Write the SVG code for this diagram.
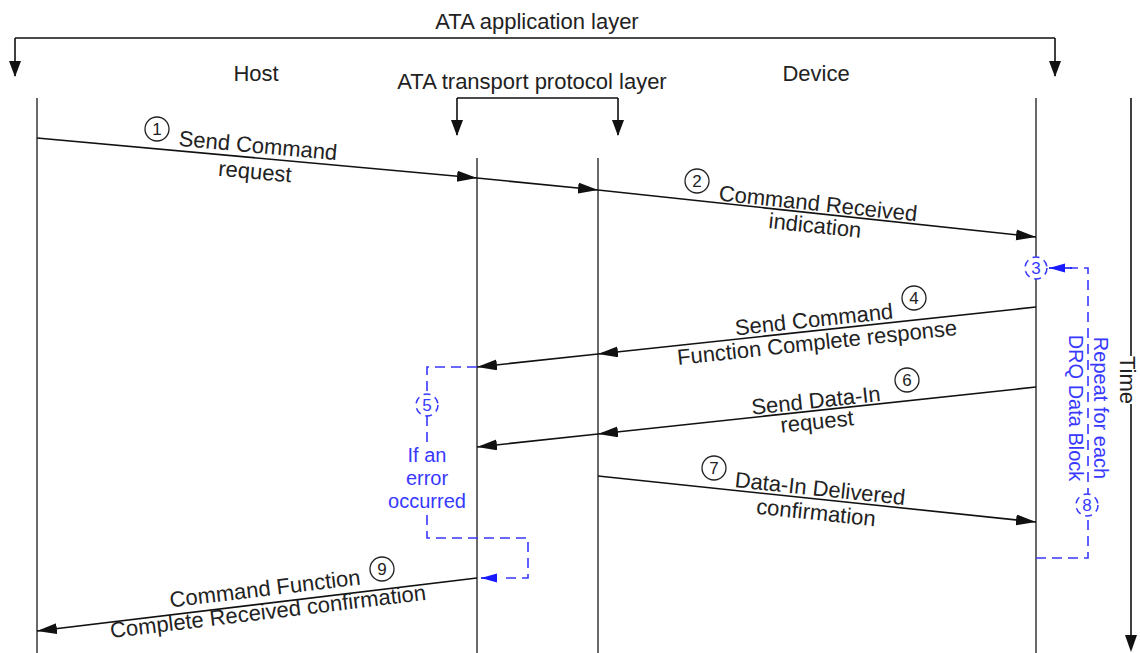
<svg xmlns="http://www.w3.org/2000/svg" width="1140" height="653" viewBox="0 0 1140 653">
<defs>
<style>
.t{font-family:"Liberation Sans",Arial,sans-serif;font-size:22px;fill:#222;text-anchor:middle}
.b{font-family:"Liberation Sans",Arial,sans-serif;font-size:20px;fill:#3838ff;text-anchor:middle}
.n{font-family:"Liberation Sans",Arial,sans-serif;font-size:17px;fill:#222;text-anchor:middle}
.nb{font-family:"Liberation Sans",Arial,sans-serif;font-size:17px;fill:#3838ff;text-anchor:middle}
.life{stroke:#444;stroke-width:1.6;fill:none}
.msg{stroke:#111;stroke-width:1.6;fill:none;marker-end:url(#ah)}
.br{stroke:#111;stroke-width:1.6;fill:none}
.dash{stroke:#3838ff;stroke-width:1.6;fill:none;stroke-dasharray:10 6}
.nc{fill:#fff;stroke:#222;stroke-width:1.3}
.ncb{fill:#fff;stroke:#3838ff;stroke-width:1.5;stroke-dasharray:7 5}
</style>
<marker id="ah" markerUnits="userSpaceOnUse" markerWidth="22" markerHeight="12" refX="20" refY="5.5" orient="auto">
<path d="M0,0 L20,5.5 L0,11 z" fill="#111"/>
</marker>
<marker id="ahb" markerUnits="userSpaceOnUse" markerWidth="20" markerHeight="12" refX="16" refY="4.5" orient="auto">
<path d="M0,0 L16,4.5 L0,9 z" fill="#1a1aff"/>
</marker>
</defs>
<rect width="1140" height="653" fill="#fff"/>

<g id="app-layer">
<text class="t" x="537" y="29">ATA application layer</text>
<path class="br" d="M15,38 H1055 M15,38 V76 M1055,38 V76"/>
<path d="M9,61 L15,77 L21,61 z M1049,61 L1055,77 L1061,61 z" fill="#111"/>
</g>

<g id="transport-layer">
<text class="t" x="532" y="89">ATA transport protocol layer</text>
<path class="br" d="M457,98 H618 M457,98 V135 M618,98 V135"/>
<path d="M451,120 L457,136 L463,120 z M612,120 L618,136 L624,120 z" fill="#111"/>
</g>

<g id="host">
<text class="t" x="256" y="81">Host</text>
<line class="life" x1="37" y1="98" x2="37" y2="653"/>
</g>

<g id="transport-host-side">
<line class="life" x1="477" y1="158" x2="477" y2="653"/>
</g>

<g id="transport-device-side">
<line class="life" x1="598" y1="158" x2="598" y2="653"/>
</g>

<g id="device">
<text class="t" x="816" y="81">Device</text>
<line class="life" x1="1036" y1="98" x2="1036" y2="257"/>
<line class="life" x1="1036" y1="279" x2="1036" y2="653"/>
</g>

<g id="time-axis">
<line class="br" x1="1131" y1="98" x2="1131" y2="356"/>
<line class="br" x1="1131" y1="404" x2="1131" y2="636"/>
<path d="M1125,635 L1131,652 L1137,635 z" fill="#111"/>
<text class="t" transform="translate(1127,380) rotate(90)" x="0" y="7">Time</text>
</g>

<g id="connectors">
<line class="msg" x1="37" y1="138" x2="477" y2="178"/>
<line class="msg" x1="477" y1="178" x2="598" y2="190"/>
<line class="msg" x1="598" y1="190" x2="1036" y2="237"/>
<line class="msg" x1="1036" y1="307" x2="598" y2="354"/>
<line class="msg" x1="598" y1="354" x2="477" y2="367"/>
<line class="msg" x1="1036" y1="387" x2="598" y2="434"/>
<line class="msg" x1="598" y1="434" x2="477" y2="447"/>
<line class="msg" x1="598" y1="476" x2="1036" y2="522"/>
<line class="msg" x1="477" y1="578" x2="37" y2="631"/>
<path class="dash" d="M477,367 H427 V394 M427,416 V442 M427,515 V538 H528 V578 H500"/>
<line stroke="#1a1aff" stroke-width="1.6" x1="496" y1="578" x2="481" y2="578" marker-end="url(#ahb)"/>
<path class="dash" d="M1036,558 H1088 V268 H1070"/>
<line stroke="#1a1aff" stroke-width="1.6" x1="1072" y1="268" x2="1049" y2="268" marker-end="url(#ahb)"/>
</g>

<g id="step1">
<circle class="nc" cx="157" cy="129" r="12"/><text class="n" x="157" y="135">1</text>
<text class="t" transform="rotate(5.2 258 146)" x="258" y="153">Send Command</text>
<text class="t" transform="rotate(5.2 255 172)" x="255" y="179">request</text>
</g>

<g id="step2">
<circle class="nc" cx="697" cy="181" r="12"/><text class="n" x="697" y="187">2</text>
<text class="t" transform="rotate(6 818 204)" x="818" y="211">Command Received</text>
<text class="t" transform="rotate(6 815 226)" x="815" y="233">indication</text>
</g>

<g id="step3">
<circle class="ncb" cx="1036" cy="268" r="11"/><text class="nb" x="1036" y="274">3</text>
</g>

<g id="step4">
<circle class="nc" cx="914" cy="298" r="12"/><text class="n" x="914" y="304">4</text>
<text class="t" transform="rotate(-6.1 814 320)" x="814" y="327">Send Command</text>
<text class="t" transform="rotate(-6.1 817 343)" x="817" y="350">Function Complete response</text>
</g>

<g id="step5">
<circle class="ncb" cx="427" cy="405" r="11"/><text class="nb" x="427" y="411">5</text>
<text class="b" x="427" y="462">If an</text>
<text class="b" x="427" y="485">error</text>
<text class="b" x="427" y="508">occurred</text>
</g>

<g id="step6">
<circle class="nc" cx="907" cy="380" r="12"/><text class="n" x="907" y="386">6</text>
<text class="t" transform="rotate(-6.1 816 401)" x="816" y="408">Send Data-In</text>
<text class="t" transform="rotate(-6.1 817 422)" x="817" y="429">request</text>
</g>

<g id="step7">
<circle class="nc" cx="714" cy="468" r="12"/><text class="n" x="714" y="474">7</text>
<text class="t" transform="rotate(6 820 489)" x="820" y="496">Data-In Delivered</text>
<text class="t" transform="rotate(6 816 513)" x="816" y="520">confirmation</text>
</g>

<g id="step8">
<circle class="ncb" cx="1087" cy="505" r="11"/><text class="nb" x="1087" y="511">8</text>
<text class="b" transform="translate(1101,408) rotate(90)" x="0" y="7">Repeat for each</text>
<text class="b" transform="translate(1076,408) rotate(90)" x="0" y="7">DRQ Data Block</text>
</g>

<g id="step9">
<circle class="nc" cx="382" cy="569" r="12"/><text class="n" x="382" y="575">9</text>
<text class="t" transform="rotate(-6.9 265 589)" x="265" y="596">Command Function</text>
<text class="t" transform="rotate(-6.9 268 612)" x="268" y="619">Complete Received confirmation</text>
</g>
</svg>
